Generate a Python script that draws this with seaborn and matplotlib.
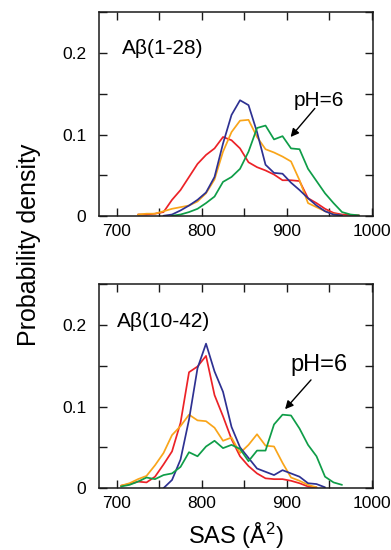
import numpy as np
import pandas as pd
import matplotlib
matplotlib.use("Agg")
import matplotlib.pyplot as plt
import seaborn as sns
from matplotlib.ticker import MultipleLocator, FuncFormatter

# SAS histogram bin centres (Å^2)
sas_top = np.arange(725, 986, 10)
sas_bot = np.arange(705, 966, 10)
nan = np.nan

# A-beta(1-28)
top_red = [0.002, 0.002, 0.003, 0.005, 0.020, 0.032, 0.048, 0.064, 0.075, 0.083,
           0.097, 0.093, 0.083, 0.066, 0.060, 0.056, 0.051, 0.044, 0.044, 0.043,
           0.022, 0.016, 0.009, 0.004, 0.002, 0.0015, 0.001]
top_orange = [0.002, 0.003, 0.003, 0.006, 0.009, 0.011, 0.013, 0.018, 0.028, 0.045,
              0.079, 0.103, 0.117, 0.118, 0.097, 0.082, 0.078, 0.073, 0.067, 0.044,
              0.016, 0.011, 0.006, 0.0025, 0.001, nan, nan]
top_blue = [nan, nan, nan, 0.0005, 0.002, 0.007, 0.013, 0.020, 0.029, 0.048,
            0.089, 0.124, 0.142, 0.136, 0.103, 0.063, 0.053, 0.052, 0.041, 0.032,
            0.022, 0.013, 0.006, 0.002, 0.001, nan, nan]
top_green = [nan, nan, nan, nan, 0.0005, 0.002, 0.005, 0.009, 0.016, 0.024,
             0.042, 0.048, 0.058, 0.079, 0.108, 0.111, 0.094, 0.098, 0.083, 0.082,
             0.058, 0.043, 0.028, 0.016, 0.005, 0.002, 0.001]

# A-beta(10-42)
bot_red = [0.003, 0.005, 0.008, 0.007, 0.014, 0.029, 0.045, 0.080, 0.142, 0.149,
           0.162, 0.114, 0.088, 0.060, 0.039, 0.027, 0.018, 0.012, 0.011, 0.011,
           0.009, 0.006, 0.002, 0.001, nan, nan, nan]
bot_orange = [0.003, 0.006, 0.011, 0.015, 0.028, 0.043, 0.065, 0.076, 0.090, 0.083,
              0.082, 0.074, 0.058, 0.062, 0.043, 0.053, 0.066, 0.052, 0.051, 0.031,
              0.013, 0.009, 0.004, 0.001, nan, nan, nan]
bot_blue = [nan, nan, nan, nan, nan, 0.0, 0.010, 0.035, 0.084, 0.147,
            0.177, 0.143, 0.118, 0.075, 0.050, 0.037, 0.024, 0.020, 0.016, 0.022,
            0.018, 0.014, 0.006, 0.005, 0.001, nan, nan]
bot_green = [0.002, 0.004, 0.008, 0.013, 0.011, 0.016, 0.018, 0.026, 0.044, 0.039,
             0.051, 0.058, 0.049, 0.053, 0.048, 0.033, 0.046, 0.046, 0.078, 0.090,
             0.089, 0.073, 0.053, 0.039, 0.014, 0.007, 0.004]

colors = {"red": "#ec2227", "orange": "#f9a51a", "blue": "#2e3192", "green": "#0f9d48"}

sns.set_theme(style="ticks")
plt.rcParams['font.family'] = ['Liberation Sans', 'DejaVu Sans']
plt.rcParams['mathtext.fontset'] = 'custom'
plt.rcParams['mathtext.rm'] = 'Liberation Sans'
plt.rcParams['mathtext.it'] = 'Liberation Sans'
plt.rcParams['text.color'] = 'black'
plt.rcParams['xtick.color'] = 'black'
plt.rcParams['ytick.color'] = 'black'
plt.rcParams['axes.labelcolor'] = 'black'

fig = plt.figure(figsize=(3.91, 5.5), dpi=100)
ax_top = fig.add_axes([0.253, 0.607, 0.700, 0.371])
ax_bot = fig.add_axes([0.253, 0.1125, 0.700, 0.371])


def draw_panel(ax, x, series, label, ph_xy, ph_size, arrow_tail, arrow_head):
    for name, vals in series:
        df = pd.DataFrame({"sas": x, "p": vals}).dropna()
        sns.lineplot(data=df, x="sas", y="p", color=colors[name], lw=1.25, ax=ax)
    ax.set_xlim(679, 1001)
    ax.set_ylim(0, 0.25)
    ax.xaxis.set_major_locator(MultipleLocator(100))
    ax.xaxis.set_minor_locator(MultipleLocator(50))
    ax.yaxis.set_major_locator(MultipleLocator(0.1))
    ax.yaxis.set_minor_locator(MultipleLocator(0.05))
    ax.yaxis.set_major_formatter(FuncFormatter(lambda v, p: "0" if v == 0 else f"{v:.1f}"))
    ax.tick_params(which="both", direction="in", top=True, right=True,
                   length=6, width=1.0, color="#1a1a1a")
    ax.tick_params(axis="x", which="major", labelsize=12.5, pad=6)
    ax.tick_params(axis="y", which="major", labelsize=12.5, pad=9)
    for s in ax.spines.values():
        s.set_linewidth(1.1)
        s.set_color("#1a1a1a")
    ax.set_xlabel("")
    ax.set_ylabel("")
    ax.text(label[0], label[1], label[2], transform=ax.transAxes,
            fontsize=15, ha="left", va="center")
    ax.text(ph_xy[0], ph_xy[1], "pH=6", transform=ax.transAxes,
            fontsize=ph_size, ha="left", va="center")
    ax.annotate("", xy=arrow_head, xytext=arrow_tail,
                arrowprops=dict(arrowstyle="-|>", color="black", lw=1.0,
                                mutation_scale=12, shrinkA=0, shrinkB=0))


draw_panel(ax_top, sas_top,
           [("red", top_red), ("orange", top_orange), ("blue", top_blue), ("green", top_green)],
           (0.083, 0.824, "Aβ(1-28)"), (0.712, 0.569), 15,
           (933, 0.132), (904.5, 0.097))
draw_panel(ax_bot, sas_bot,
           [("red", bot_red), ("orange", bot_orange), ("blue", bot_blue), ("green", bot_green)],
           (0.066, 0.815, "Aβ(10-42)"), (0.698, 0.604), 17,
           (928.5, 0.1326), (898, 0.0967))

ax_bot.set_xlabel("SAS (Å$^2$)", fontsize=17)
ax_bot.xaxis.set_label_coords(0.5, -0.16)
fig.text(0.075, 1 - 245 / 550, "Probability density", rotation=90,
         fontsize=18, ha="center", va="center")

fig.savefig("out.png", dpi=100)
